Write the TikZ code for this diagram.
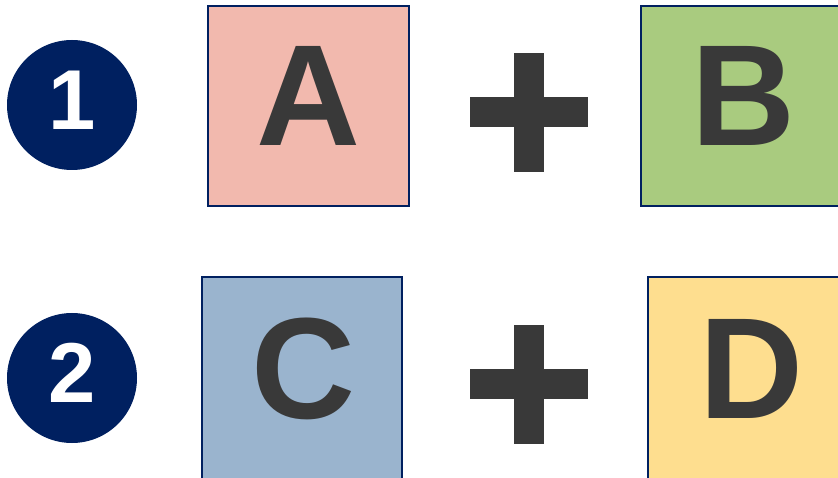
\documentclass[tikz,border=0pt]{standalone}
\usepackage{fontspec}
\setmainfont{Liberation Sans}
\definecolor{navy}{HTML}{002060}
\definecolor{txt}{HTML}{393939}
\definecolor{fillA}{HTML}{F2B9AE}
\definecolor{fillB}{HTML}{A9CB7F}
\definecolor{fillC}{HTML}{9AB4CE}
\definecolor{fillD}{HTML}{FEDE8F}
\tikzset{
  boxshape/.style={draw=navy, line width=2.2pt},
  numdisc/.style={circle, fill=navy, inner sep=0pt, minimum size=130pt},
  bigletter/.style={inner sep=0pt, anchor=base, text=txt, font=\fontsize{144}{144}\selectfont\bfseries},
  numtext/.style={inner sep=0pt, anchor=base, text=white, font=\fontsize{85}{85}\selectfont\bfseries},
  plusfill/.style={fill=txt}
}
\begin{document}
\begin{tikzpicture}[x=1pt,y=-1pt]
\clip (0,0) rectangle (838,478);
% row 1
\node[numdisc] (n1) at (72,105) {};
\node[numtext] (t1) at (72,130) {1};
\path[boxshape, fill=fillA] (208,6) rectangle (409,206);
\node[bigletter] (A) at (308.5,146) {A};
\fill[plusfill] (514,53) rectangle (544,172);
\fill[plusfill] (470,97) rectangle (588,127);
\path[boxshape, fill=fillB] (641,6) rectangle (850,206);
\node[bigletter] (B) at (743.5,146) {B};
% row 2
\node[numdisc] (n2) at (72,378) {};
\node[numtext] (t2) at (72,402) {2};
\path[boxshape, fill=fillC] (202,277) rectangle (402,490);
\node[bigletter] (C) at (303,418) {C};
\fill[plusfill] (514,325) rectangle (544,444);
\fill[plusfill] (470,369) rectangle (588,399);
\path[boxshape, fill=fillD] (648,277) rectangle (850,490);
\node[bigletter] (D) at (751.5,418) {D};
\end{tikzpicture}
\end{document}
